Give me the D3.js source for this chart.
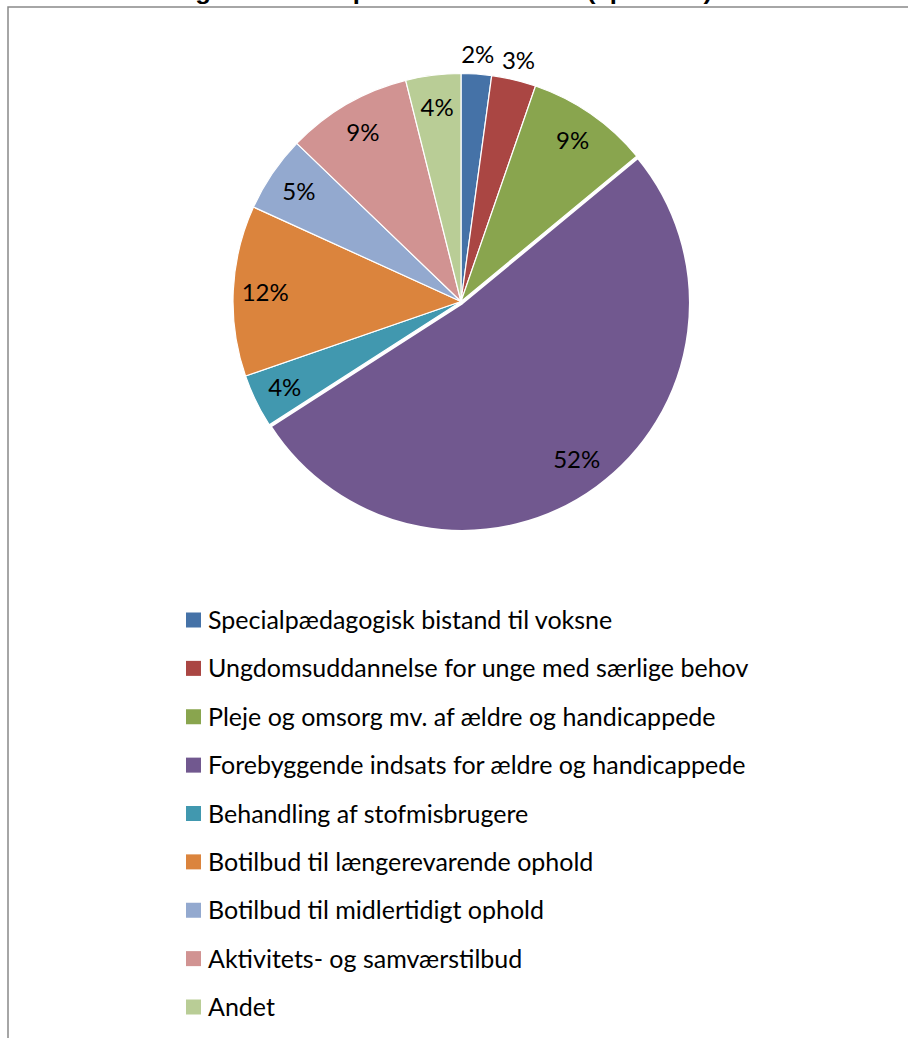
<!DOCTYPE html>
<html>
<head>
<meta charset="utf-8">
<script src="https://cdn.jsdelivr.net/npm/d3@7"></script>
<style>
  html, body { margin: 0; padding: 0; background: #fff; }
  svg text { font-family: Lato, "Liberation Sans", sans-serif; }
</style>
</head>
<body>
<div id="chart"></div>
<script>
// categories, in the order the slices run clockwise from 12 o'clock
const categories = [
    "Specialpædagogisk bistand til voksne",
    "Ungdomsuddannelse for unge med særlige behov",
    "Pleje og omsorg mv. af ældre og handicappede",
    "Forebyggende indsats for ældre og handicappede",
    "Behandling af stofmisbrugere",
    "Botilbud til længerevarende ophold",
    "Botilbud til midlertidigt ophold",
    "Aktivitets- og samværstilbud",
    "Andet"
];
// shares in percent
const shares = [2.15, 3.15, 8.7, 51.9, 3.8, 12.1, 5.4, 8.9, 3.9];
const colors = ["#4572A7", "#AA4643", "#89A54E", "#71588F", "#4198AF", "#DB843D", "#93A9CF", "#D19392", "#B9CD96"];
const titleText = "Nettodriftsudgifter fordelt på serviceområder (i procent)";

const width = 908, height = 1038;
const cx = 461, cy = 301.5, radius = 228;

const svg = d3.select("#chart").append("svg")
    .attr("width", width)
    .attr("height", height);

// title, mostly cut off by the top edge
svg.append("text")
    .attr("x", 35)
    .attr("y", -1)
    .attr("textLength", 677)
    .attr("lengthAdjust", "spacingAndGlyphs")
    .style("font-family", "'Liberation Sans', Arial, sans-serif")
    .style("font-weight", "bold")
    .style("font-size", "22px")
    .text(titleText);

// chart frame
svg.append("rect")
    .attr("x", 8)
    .attr("y", 7)
    .attr("width", 1000)
    .attr("height", 1100)
    .attr("fill", "none")
    .attr("stroke", "#898989")
    .attr("stroke-width", 1.5);

const total = d3.sum(shares);
const pie = d3.pie().sort(null).value(d => d);
const arcs = pie(shares);
const arc = d3.arc().innerRadius(0).outerRadius(radius);
const fmt = d3.format(".0%");

const g = svg.append("g").attr("transform", `translate(${cx},${cy})`);

// the big slice sits slightly pulled out
const explode = (d, i) => {
    if (i !== 3) return "";
    const a = (d.startAngle + d.endAngle) / 2;
    return `translate(${Math.sin(a) * 2},${-Math.cos(a) * 2})`;
};

g.selectAll("path")
    .data(arcs)
    .enter()
    .append("path")
    .attr("d", arc)
    .attr("transform", explode)
    .style("fill", (d, i) => colors[i])
    .style("stroke", "#fff")
    .style("stroke-width", (d, i) => i === 3 ? 2.5 : 1.2)
    .style("stroke-linejoin", "round");

// labels inside the slices, small ones outside the rim
const labelPos = d => {
    const a = (d.startAngle + d.endAngle) / 2;
    const r = d.value < 3.5 ? radius + 20 : 196;
    return [Math.sin(a) * r, -Math.cos(a) * r];
};

g.selectAll("text.lbl")
    .data(arcs)
    .enter()
    .append("text")
    .attr("class", "lbl")
    .attr("x", d => labelPos(d)[0])
    .attr("y", d => labelPos(d)[1])
    .attr("dy", "0.36em")
    .attr("text-anchor", "middle")
    .style("font-size", "24px")
    .style("fill", "#000")
    .text(d => fmt(d.value / total));

// legend
const rowY = d3.scalePoint().domain(categories).range([620, 1007]);

const legend = svg.append("g")
    .selectAll("g")
    .data(categories)
    .enter()
    .append("g")
    .attr("transform", d => `translate(186,${rowY(d)})`);

legend.append("rect")
    .attr("x", 0)
    .attr("y", -7.5)
    .attr("width", 15)
    .attr("height", 15)
    .style("fill", (d, i) => colors[i]);

legend.append("text")
    .attr("x", 22)
    .attr("y", 0)
    .attr("dy", "0.36em")
    .style("font-size", "25px")
    .style("fill", "#000")
    .text(d => d);
</script>
</body>
</html>
